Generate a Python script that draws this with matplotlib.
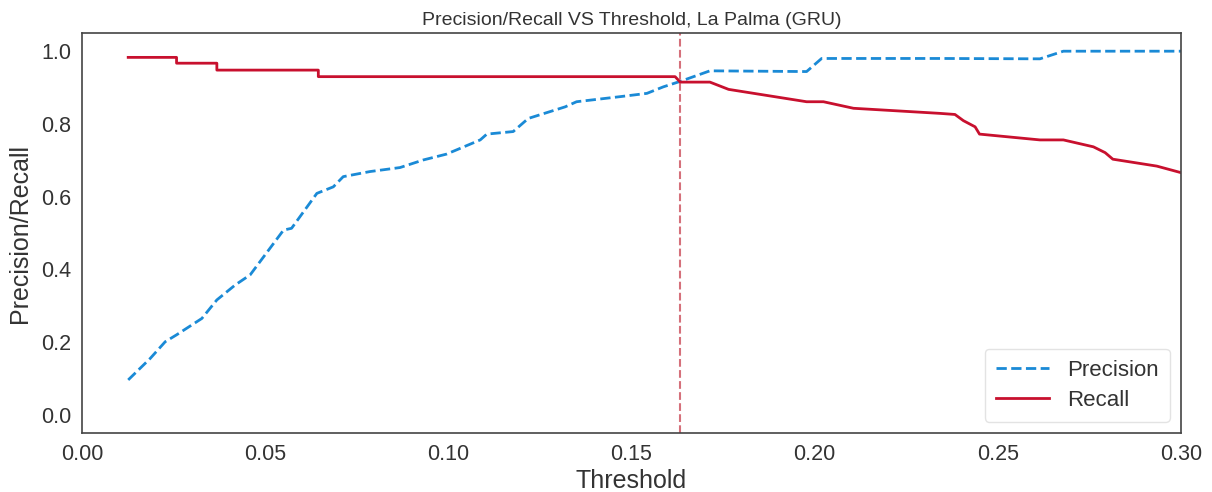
import matplotlib
matplotlib.use("Agg")
import matplotlib.pyplot as plt

plt.rcParams['font.family'] = ['Liberation Sans', 'DejaVu Sans']

prec_thr = [0.0126, 0.0186, 0.0227, 0.0258, 0.0327, 0.0368, 0.0418, 0.0459, 0.0513,
            0.0550, 0.0572, 0.0641, 0.0686, 0.0713, 0.0786, 0.0868, 0.0932, 0.0995,
            0.1087, 0.1105, 0.1177, 0.1218, 0.1319, 0.1350, 0.1469, 0.1542, 0.1587,
            0.1633, 0.1714, 0.1978, 0.2019, 0.2342, 0.2615, 0.2679, 0.3000]
precision = [0.096, 0.155, 0.201, 0.220, 0.265, 0.316, 0.357, 0.385, 0.458,
             0.508, 0.513, 0.609, 0.627, 0.655, 0.669, 0.680, 0.701, 0.717,
             0.756, 0.772, 0.779, 0.815, 0.847, 0.861, 0.875, 0.884, 0.902,
             0.917, 0.946, 0.944, 0.980, 0.980, 0.979, 1.000, 1.000]

rec_thr = [0.0126, 0.0258, 0.0258, 0.0368, 0.0368, 0.0645, 0.0645, 0.1619, 0.1633,
           0.1714, 0.1765, 0.1978, 0.2024, 0.2106, 0.2342, 0.2383, 0.2406, 0.2438,
           0.2450, 0.2615, 0.2679, 0.2761, 0.2793, 0.2814, 0.2934, 0.3000]
recall = [0.983, 0.983, 0.967, 0.967, 0.948, 0.948, 0.930, 0.930, 0.915,
          0.915, 0.895, 0.861, 0.861, 0.843, 0.829, 0.826, 0.809, 0.792,
          0.772, 0.756, 0.756, 0.737, 0.721, 0.703, 0.684, 0.666]

best_threshold = 0.1633

fig = plt.figure(figsize=(12.12, 4.92), dpi=100)
ax = fig.add_axes([0.0677, 0.1199, 0.9067, 0.8130])

ax.plot(prec_thr, precision, linestyle='--', color='#1a8ad6', linewidth=2, label='Precision')
ax.plot(rec_thr, recall, linestyle='-', color='#c8102e', linewidth=2, label='Recall')
ax.axvline(best_threshold, color='#c8404f', linestyle='--', linewidth=1.5, alpha=0.75)

ax.set_xlim(0, 0.30)
ax.set_ylim(-0.05, 1.05)
ax.set_xticks([0.00, 0.05, 0.10, 0.15, 0.20, 0.25, 0.30])
ax.set_xticklabels(['0.00', '0.05', '0.10', '0.15', '0.20', '0.25', '0.30'])
ax.set_yticks([0.0, 0.2, 0.4, 0.6, 0.8, 1.0])
ax.set_yticklabels(['0.0', '0.2', '0.4', '0.6', '0.8', '1.0'])
ax.tick_params(axis='both', labelsize=15.5, colors='#333333', length=0, pad=8)
for s in ax.spines.values():
    s.set_color('#444444')
    s.set_linewidth(1.2)

ax.set_xlabel('Threshold', fontsize=18, color='#333333', labelpad=3)
ax.set_ylabel('Precision/Recall', fontsize=18, color='#333333', labelpad=6)
ax.set_title('Precision/Recall VS Threshold, La Palma (GRU)', fontsize=14, color='#333333', pad=6)

leg = ax.legend(loc='lower right', fontsize=16, frameon=True, borderpad=0.5,
                handlelength=2.4, labelspacing=0.4)
leg.get_frame().set_edgecolor('#dddddd')
for t in leg.get_texts():
    t.set_color('#333333')

fig.savefig('out.png', dpi=100)
